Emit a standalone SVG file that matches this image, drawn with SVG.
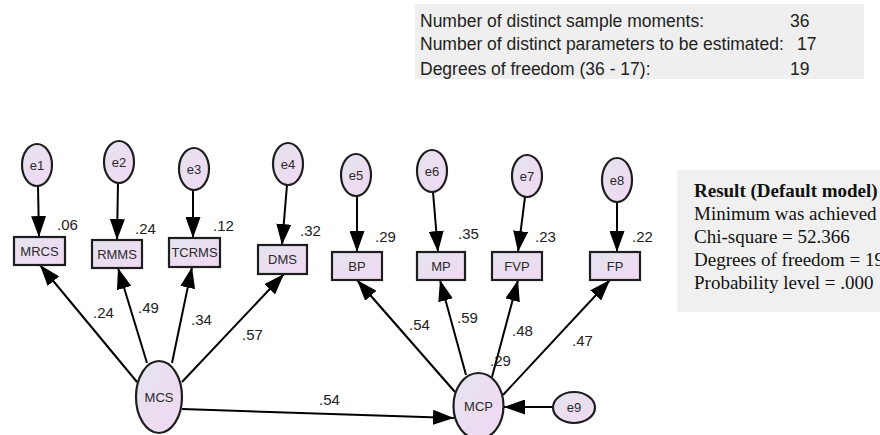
<svg xmlns="http://www.w3.org/2000/svg" width="880" height="435" viewBox="0 0 880 435">
<defs>
<linearGradient id="g" x1="0" y1="0" x2="1" y2="1">
<stop offset="0" stop-color="#e4e4ee"/>
<stop offset="1" stop-color="#f1d8f2"/>
</linearGradient>
<marker id="ah" markerUnits="userSpaceOnUse" markerWidth="21" markerHeight="15" refX="21" refY="7.5" orient="auto">
<path d="M0,0 L21,7.5 L0,15 z" fill="#000"/>
</marker>
</defs>
<style>
.n ellipse,.n rect{fill:url(#g);stroke:#1e1e1e;stroke-width:2.2}
.n text{font-family:"Liberation Sans",Arial,sans-serif;font-size:13px;fill:#2a2a2a;text-anchor:middle;dominant-baseline:central}
.c line{stroke:#000;stroke-width:2;marker-end:url(#ah)}
.lb{font-family:"Liberation Sans",Arial,sans-serif;font-size:15px;fill:#222}
.st{font-family:"Liberation Sans",Arial,sans-serif;font-size:17.5px;fill:#222}
.rs{font-family:"Liberation Serif","Times New Roman",serif;font-size:19px;fill:#111}
</style>
<rect x="415" y="4" width="449" height="75" fill="#efefef"/>
<text class="st" x="420" y="27">Number of distinct sample moments:</text>
<text class="st" x="790" y="27">36</text>
<text class="st" x="420" y="50">Number of distinct parameters to be estimated:</text>
<text class="st" x="797" y="50">17</text>
<text class="st" x="420" y="75">Degrees of freedom (36 - 17):</text>
<text class="st" x="790" y="75">19</text>

<rect x="677" y="170" width="210" height="142" fill="#f0f0f0"/>
<text class="rs" x="694" y="197" font-weight="bold">Result (Default model)</text>
<text class="rs" x="694" y="220">Minimum was achieved</text>
<text class="rs" x="694" y="243">Chi-square = 52.366</text>
<text class="rs" x="694" y="266">Degrees of freedom = 19</text>
<text class="rs" x="694" y="289">Probability level = .000</text>

<g class="c" id="connectors">
<line x1="38" y1="186" x2="39" y2="237"/>
<line x1="118" y1="183" x2="117" y2="240"/>
<line x1="193" y1="190" x2="193" y2="238"/>
<line x1="287" y1="185" x2="282" y2="245"/>
<line x1="357" y1="196" x2="357" y2="252"/>
<line x1="433" y1="192" x2="438" y2="252"/>
<line x1="525" y1="197" x2="518" y2="252"/>
<line x1="617" y1="201" x2="617" y2="252"/>
<line x1="137" y1="382" x2="40" y2="265"/>
<line x1="147" y1="363" x2="118" y2="268"/>
<line x1="172" y1="363" x2="192" y2="267"/>
<line x1="182" y1="382" x2="284" y2="274"/>
<line x1="182" y1="409" x2="454" y2="418"/>
<line x1="455" y1="392" x2="357" y2="280"/>
<line x1="466" y1="375" x2="440" y2="280"/>
<line x1="492" y1="377" x2="518" y2="280"/>
<line x1="503" y1="395" x2="610" y2="280"/>
<line x1="553" y1="407" x2="504" y2="407"/>
</g>

<g class="n" id="e1"><ellipse cx="37" cy="165" rx="15" ry="21"/><text x="37" y="165">e1</text></g>
<g class="n" id="e2"><ellipse cx="119" cy="162" rx="15" ry="21"/><text x="119" y="162">e2</text></g>
<g class="n" id="e3"><ellipse cx="194" cy="169" rx="15" ry="21"/><text x="194" y="169">e3</text></g>
<g class="n" id="e4"><ellipse cx="288" cy="164" rx="15" ry="21"/><text x="288" y="164">e4</text></g>
<g class="n" id="e5"><ellipse cx="356" cy="175" rx="15" ry="21"/><text x="356" y="175">e5</text></g>
<g class="n" id="e6"><ellipse cx="432" cy="171" rx="15" ry="21"/><text x="432" y="171">e6</text></g>
<g class="n" id="e7"><ellipse cx="527" cy="176" rx="15" ry="21"/><text x="527" y="176">e7</text></g>
<g class="n" id="e8"><ellipse cx="617" cy="180" rx="15" ry="22"/><text x="617" y="180">e8</text></g>
<g class="n" id="e9"><ellipse cx="574" cy="407.5" rx="21" ry="15.5"/><text x="574" y="407.5">e9</text></g>

<g class="n" id="MRCS"><rect x="14" y="237" width="51" height="28"/><text x="39.5" y="251">MRCS</text></g>
<g class="n" id="RMMS"><rect x="92" y="240" width="50" height="28"/><text x="117" y="254">RMMS</text></g>
<g class="n" id="TCRMS"><rect x="169" y="238" width="51" height="29"/><text x="194.5" y="252.5">TCRMS</text></g>
<g class="n" id="DMS"><rect x="258" y="245" width="49" height="29"/><text x="282.5" y="259.5">DMS</text></g>
<g class="n" id="BP"><rect x="332" y="252" width="50" height="28"/><text x="357" y="266">BP</text></g>
<g class="n" id="MP"><rect x="417" y="252" width="48" height="28"/><text x="441" y="266">MP</text></g>
<g class="n" id="FVP"><rect x="492" y="252" width="50" height="28"/><text x="517" y="266">FVP</text></g>
<g class="n" id="FP"><rect x="590" y="252" width="50" height="28"/><text x="615" y="266">FP</text></g>

<g class="n" id="MCS"><ellipse cx="159" cy="397" rx="23" ry="36"/><text x="159" y="397">MCS</text></g>
<g class="n" id="MCP"><ellipse cx="478.5" cy="406" rx="25" ry="33"/><text x="478.5" y="406">MCP</text></g>

<g id="labels">
<text class="lb" x="57" y="230">.06</text>
<text class="lb" x="135" y="234">.24</text>
<text class="lb" x="213" y="231">.12</text>
<text class="lb" x="300" y="236">.32</text>
<text class="lb" x="375" y="242">.29</text>
<text class="lb" x="458" y="239">.35</text>
<text class="lb" x="535" y="242">.23</text>
<text class="lb" x="632" y="242">.22</text>
<text class="lb" x="93" y="318">.24</text>
<text class="lb" x="138" y="313">.49</text>
<text class="lb" x="191" y="325">.34</text>
<text class="lb" x="242" y="340">.57</text>
<text class="lb" x="319" y="405">.54</text>
<text class="lb" x="409" y="330">.54</text>
<text class="lb" x="457" y="323">.59</text>
<text class="lb" x="512" y="336">.48</text>
<text class="lb" x="572" y="346">.47</text>
<text class="lb" x="490" y="366">.29</text>
</g>
</svg>
